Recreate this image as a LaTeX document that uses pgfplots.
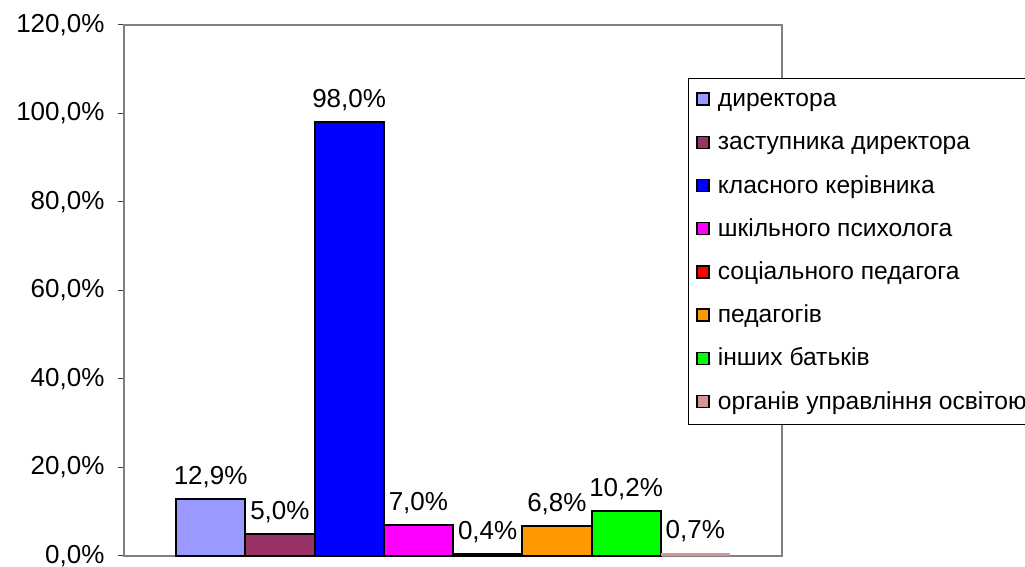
\documentclass[border=0pt]{standalone}
\usepackage{pgfplots}
\pgfplotsset{compat=1.18}
\usepackage{fontspec}
\setmainfont{Liberation Sans}
\definecolor{c1}{RGB}{153,153,255}
\definecolor{c2}{RGB}{153,51,102}
\definecolor{c3}{RGB}{0,0,255}
\definecolor{c4}{RGB}{255,0,255}
\definecolor{c5}{RGB}{255,0,0}
\definecolor{c6}{RGB}{255,153,0}
\definecolor{c7}{RGB}{0,255,0}
\definecolor{c8}{RGB}{210,150,150}
\newcommand{\bigf}{\fontsize{26pt}{30pt}\selectfont}
\newcommand{\legf}{\fontsize{24.6pt}{30pt}\selectfont}
\begin{document}
\begin{tikzpicture}[x=1pt,y=1pt]
\begin{axis}[
  /pgf/number format/assume math mode=true,
  at={(124pt,11pt)}, anchor=south west,
  scale only axis, width=658pt, height=531pt,
  xmin=-1.251, xmax=8.251, ymin=0, ymax=120,
  ytick={0,20,...,120},
  yticklabels={{0,0\%},{20,0\%},{40,0\%},{60,0\%},{80,0\%},{100,0\%},{120,0\%}},
  xtick=\empty,
  tick pos=left, tick align=outside,
  major tick length=6pt,
  every tick/.style={black!75, line width=1pt},
  axis line style={black!50, line width=1.5pt},
  ticklabel style={font=\bigf},
  yticklabel style={xshift=-10pt},
  ybar, bar width=1, bar shift=0,
  every axis plot/.append style={draw=black, line width=2pt},
  nodes near coords={\pgfmathprintnumber[fixed,fixed zerofill,precision=1,use comma]{\pgfplotspointmeta}\%},
  every node near coord/.append style={font=\bigf, black, yshift=7pt},
  legend image code/.code={\draw[#1, line width=1.5pt] (0pt,-5pt) rectangle (12pt,7pt);},
  legend style={at={(0.857,0.900)}, anchor=north west, draw=black, line width=1pt,
    font=\legf, inner xsep=8pt, inner ysep=8pt,
    row sep=16.2pt, cells={anchor=west},
    nodes={inner sep=1pt, text height=19pt, text depth=6pt},
    /tikz/every odd column/.append style={column sep=7pt}},
  legend cell align=left,
  clip=false,
]
\addplot[fill=c1] coordinates {(0,12.9)};
\addlegendentry{директора}
\addplot[fill=c2] coordinates {(1,5.0)};
\addlegendentry{заступника директора}
\addplot[fill=c3] coordinates {(2,98.0)};
\addlegendentry{класного керівника}
\addplot[fill=c4] coordinates {(3,7.0)};
\addlegendentry{шкільного психолога}
\addplot[fill=c5] coordinates {(4,0.4)};
\addlegendentry{соціального педагога}
\addplot[fill=c6] coordinates {(5,6.8)};
\addlegendentry{педагогів}
\addplot[fill=c7] coordinates {(6,10.2)};
\addlegendentry{інших батьків}
\addplot[fill=c8, draw=none] coordinates {(7,0.7)};
\addlegendentry{органів управління освітою}
\end{axis}
\pgfresetboundingbox
\path (0,0) rectangle (1025,567);
\end{tikzpicture}
\end{document}
